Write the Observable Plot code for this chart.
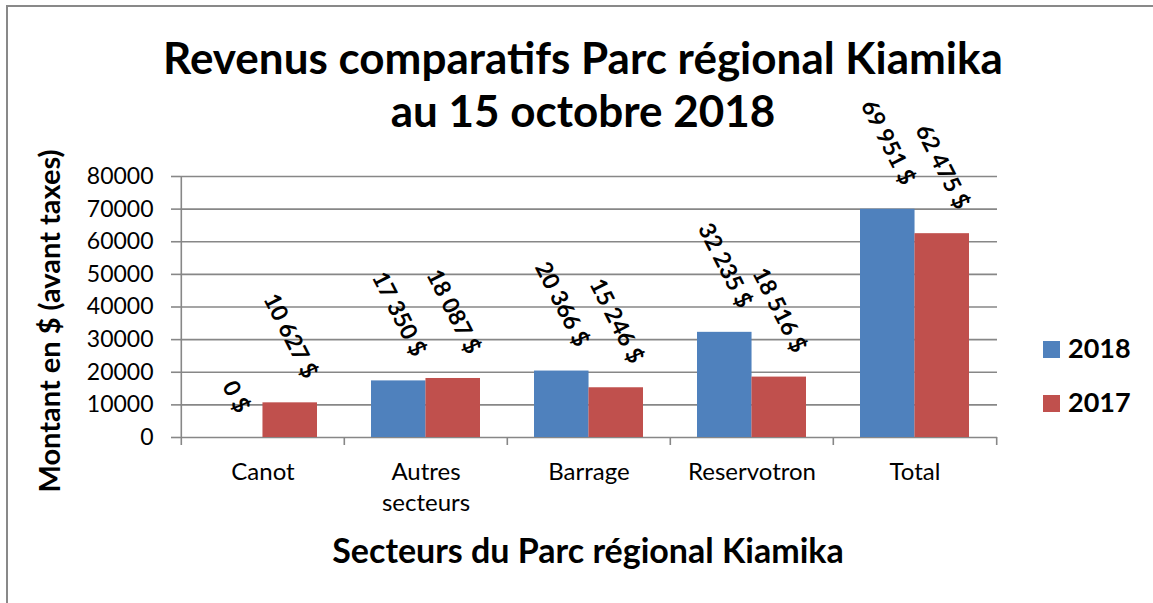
<!DOCTYPE html>
<html>
<head>
<meta charset="utf-8">
<script src="https://cdn.jsdelivr.net/npm/d3@7"></script>
<script src="https://cdn.jsdelivr.net/npm/@observablehq/plot@0.6"></script>
<style>
  html, body { margin: 0; padding: 0; background: #fff; }
  #wrap { position: relative; width: 1153px; height: 603px; overflow: hidden; background: #fff; font-family: Lato, sans-serif; color: #000; }
  #border { position: absolute; left: 6px; top: 5px; width: 1300px; height: 800px; border: 2px solid #898989; box-sizing: border-box; }
  #chart { position: absolute; left: 0; top: 0; }
  .title { position: absolute; left: 0; top: 31px; width: 1166px; text-align: center; font-weight: 700; font-size: 44px; line-height: 53px; white-space: nowrap; }
  .ytitle { position: absolute; left: -201px; top: 301px; width: 500px; height: 40px; line-height: 40px; text-align: center; font-weight: 700; font-size: 29px; transform: rotate(-90deg); white-space: nowrap; }
  .xtitle { position: absolute; left: 0; top: 530px; width: 1176px; line-height: 40px; text-align: center; font-weight: 700; font-size: 34px; white-space: nowrap; }
  .leg { position: absolute; left: 1043px; height: 30px; }
  .leg .sw { position: absolute; left: 0; width: 17px; height: 17px; }
  .leg .lb { position: absolute; left: 25px; top: 0; font-weight: 700; font-size: 27px; line-height: 30px; white-space: nowrap; }
</style>
</head>
<body>
<div id="wrap">
  <div id="border"></div>
  <div id="chart"></div>
  <div class="title">Revenus comparatifs Parc régional Kiamika<br>au 15 octobre 2018</div>
  <div class="ytitle">Montant en $ (avant taxes)</div>
  <div class="xtitle">Secteurs du Parc régional Kiamika</div>
  <div id="legend"></div>
</div>
<script>
// ---- Data ----
const categories = ["Canot", "Autres\nsecteurs", "Barrage", "Reservotron", "Total"];
const years = ["2018", "2017"];
const values2018 = [0, 17350, 20366, 32235, 69951];
const values2017 = [10627, 18087, 15246, 18516, 62475];
const yTicks = [0, 10000, 20000, 30000, 40000, 50000, 60000, 70000, 80000];
const colors = ["#4F81BD", "#C0504D"];
const gridColor = "#878787";

const rows2018 = categories.map((c, i) => ({cat: c, year: years[0], value: values2018[i]}));
const rows2017 = categories.map((c, i) => ({cat: c, year: years[1], value: values2017[i]}));

const fmt = v => d3.format(",")(v).replace(/,/g, " ") + " $";

// ---- Layout ----
const W = 1153, H = 603;
const mL = 180, mR = 156, mT = 176, mB = 166;
const plotW = W - mL - mR, plotH = H - mT - mB;
const step = plotW / categories.length;
const bw = step * 2 / 3;
const angle = 63;

const chart = Plot.plot({
  width: W, height: H,
  marginLeft: mL, marginRight: mR, marginTop: mT, marginBottom: mB,
  style: {fontFamily: "Lato, sans-serif", background: "transparent", overflow: "visible", color: "#000"},
  x: {type: "band", domain: categories, paddingInner: 1/3, paddingOuter: 1/6, axis: null, label: null},
  y: {domain: [0, 80000], axis: null, label: null},
  marks: [
    Plot.gridY(yTicks, {stroke: gridColor, strokeOpacity: 1, strokeWidth: 1.6}),
    Plot.axisY(yTicks, {tickSize: 9, tickPadding: 18, stroke: gridColor, strokeOpacity: 1, strokeWidth: 1.6, fontSize: 23, fill: "#000", tickFormat: d => String(d), label: null}),
    Plot.barY(rows2018, {x: "cat", y: "value", fill: colors[0], insetLeft: 0, insetRight: bw / 2}),
    Plot.barY(rows2017, {x: "cat", y: "value", fill: colors[1], insetLeft: bw / 2, insetRight: 0}),
    Plot.ruleX([categories[0]], {dx: -step / 2, stroke: gridColor, strokeWidth: 1.6, insetBottom: -8}),
    Plot.ruleX(categories.slice(1), {dx: -step / 2, stroke: gridColor, strokeWidth: 1.6, insetTop: plotH, insetBottom: -8}),
    Plot.ruleX([categories[categories.length - 1]], {dx: step / 2, stroke: gridColor, strokeWidth: 1.6, insetTop: plotH, insetBottom: -8}),
    Plot.axisX({tickSize: 0, tickPadding: 20, fontSize: 24, lineHeight: 1.3, fill: "#000", label: null}),
    Plot.text(rows2018, {x: "cat", y: "value", text: d => fmt(d.value), dx: -bw / 4, rotate: angle, textAnchor: "middle", lineAnchor: "middle", fontSize: 23, fontWeight: "bold", fill: "#000"}),
    Plot.text(rows2017, {x: "cat", y: "value", text: d => fmt(d.value), dx: bw / 4, rotate: angle, textAnchor: "middle", lineAnchor: "middle", fontSize: 23, fontWeight: "bold", fill: "#000"})
  ]
});
document.getElementById("chart").appendChild(chart);

// Lift each rotated data label so its bounding box sits just above its bar
const sinT = Math.sin(angle * Math.PI / 180), cosT = Math.cos(angle * Math.PI / 180);
const gap = 22, inkH = 18;
chart.querySelectorAll('g[aria-label="text"] text').forEach(t => {
  const L = t.getComputedTextLength();
  const shift = gap + (L * sinT + inkH * cosT) / 2;
  const tr = t.getAttribute("transform") || "";
  t.setAttribute("transform", tr.replace(/translate\(\s*([^,\s]+)[,\s]+([^)\s]+)\s*\)/, (m, a, b) => `translate(${a},${(+b - shift).toFixed(2)})`));
});

// Legend
const legend = document.getElementById("legend");
const legTops = [333, 387];
years.forEach((y, i) => {
  const item = document.createElement("div");
  item.className = "leg";
  item.style.top = legTops[i] + "px";
  item.innerHTML = `<div class="sw" style="top:8px;background:${colors[i]}"></div><div class="lb">${y}</div>`;
  legend.appendChild(item);
});
</script>
</body>
</html>
